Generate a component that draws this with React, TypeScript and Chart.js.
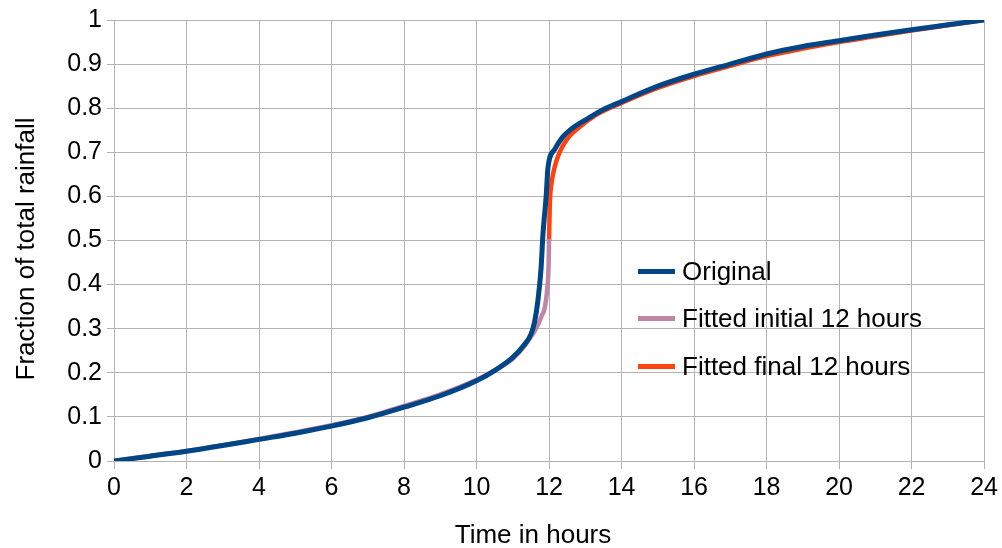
import { useEffect, useRef } from "react";
import { Chart, registerables } from "chart.js";

Chart.register(...registerables);

const seriesLabels = ["Original", "Fitted initial 12 hours", "Fitted final 12 hours"];
const seriesColors = ["#004586", "#bf86a6", "#ff420e"];

const originalHours = [0, 1, 2, 3, 4, 5, 6, 7, 8, 9, 10, 10.5, 11, 11.3, 11.5, 11.6, 11.69, 11.78, 11.83, 11.92, 11.97, 12.15, 12.38, 12.6, 13.1, 13.5, 14, 15, 16, 17, 18, 19, 20, 21, 22, 23, 24];
const originalFraction = [0, 0.011, 0.022, 0.035, 0.049, 0.063, 0.079, 0.098, 0.122, 0.148, 0.182, 0.205, 0.235, 0.262, 0.287, 0.315, 0.362, 0.437, 0.512, 0.6, 0.665, 0.706, 0.735, 0.752, 0.778, 0.797, 0.815, 0.85, 0.877, 0.9, 0.923, 0.94, 0.953, 0.966, 0.978, 0.989, 1.0];

const initialHours = [0, 1, 2, 3, 4, 5, 6, 7, 8, 9, 10, 10.5, 11, 11.3, 11.5, 11.6, 11.7, 11.8, 11.88, 11.95, 11.99, 12];
const initialFraction = [0, 0.012, 0.023, 0.036, 0.05, 0.065, 0.081, 0.1, 0.125, 0.151, 0.184, 0.206, 0.232, 0.258, 0.282, 0.294, 0.31, 0.33, 0.347, 0.39, 0.45, 0.504];

const finalHours = [12, 12.02, 12.06, 12.15, 12.29, 12.5, 12.75, 13.3, 14, 15, 16, 17, 18, 19, 20, 21, 22, 23, 24];
const finalFraction = [0.5, 0.58, 0.624, 0.665, 0.7, 0.73, 0.751, 0.785, 0.812, 0.846, 0.873, 0.896, 0.918, 0.935, 0.95, 0.963, 0.976, 0.988, 1.0];

const xTitle = "Time in hours";
const yTitle = "Fraction of total rainfall";

const FONT = "'Liberation Sans', Arial, sans-serif";

const toPoints = (xs: number[], ys: number[]) => xs.map((x, i) => ({ x, y: ys[i] }));

const overlayPlugin = {
  id: "overlay",
  afterDraw(chart: any) {
    const ctx = chart.ctx;
    ctx.save();
    // legend
    const rows = [271.5, 318.5, 366.5];
    ctx.font = `26px ${FONT}`;
    ctx.textBaseline = "middle";
    ctx.textAlign = "left";
    seriesLabels.forEach((label, i) => {
      ctx.strokeStyle = seriesColors[i];
      ctx.lineWidth = 5;
      ctx.beginPath();
      ctx.moveTo(638, rows[i]);
      ctx.lineTo(675, rows[i]);
      ctx.stroke();
      ctx.fillStyle = "#000";
      ctx.fillText(label, 682, rows[i] + 1);
    });
    // axis titles
    ctx.textAlign = "center";
    ctx.fillText(xTitle, 533, 536);
    ctx.translate(27, 249);
    ctx.rotate(-Math.PI / 2);
    ctx.fillText(yTitle, 0, 0);
    ctx.restore();
  },
};

export default function App() {
  const ref = useRef<HTMLCanvasElement>(null);
  useEffect(() => {
    document.body.style.margin = "0";
    if (!ref.current) return;
    const grid = "#b3b3b3";
    const chart = new Chart(ref.current, {
      type: "scatter",
      data: {
        datasets: [
          { label: seriesLabels[0], data: toPoints(originalHours, originalFraction), borderColor: seriesColors[0], borderWidth: 5, showLine: true, pointRadius: 0, cubicInterpolationMode: "monotone" },
          { label: seriesLabels[1], data: toPoints(initialHours, initialFraction), borderColor: seriesColors[1], borderWidth: 4.5, showLine: true, pointRadius: 0, cubicInterpolationMode: "monotone" },
          { label: seriesLabels[2], data: toPoints(finalHours, finalFraction), borderColor: seriesColors[2], borderWidth: 4.5, showLine: true, pointRadius: 0, cubicInterpolationMode: "monotone" },
        ],
      } as any,
      options: {
        animation: false,
        responsive: true,
        maintainAspectRatio: false,
        layout: { padding: { top: 16, right: 17, left: 0, bottom: 0 } },
        plugins: { legend: { display: false }, tooltip: { enabled: false } },
        scales: {
          x: {
            type: "linear",
            min: 0,
            max: 24,
            ticks: { stepSize: 2, color: "#000", font: { size: 25, family: FONT }, padding: 4, maxRotation: 0 },
            grid: { color: grid, tickLength: 8, lineWidth: 1 },
            border: { color: grid },
            afterFit: (s: any) => { s.height = 87; },
          },
          y: {
            type: "linear",
            min: 0,
            max: 1,
            ticks: {
              stepSize: 0.1,
              color: "#000",
              font: { size: 25, family: FONT },
              padding: 5,
              callback: (v: any) => String(Number(Number(v).toFixed(1))),
            },
            grid: { color: grid, tickLength: 7, lineWidth: 1 },
            border: { color: grid },
            afterFit: (s: any) => { s.width = 114; },
          },
        },
      } as any,
      plugins: [overlayPlugin],
    });
    return () => chart.destroy();
  }, []);
  return (
    <div style={{ width: 1002, height: 548, position: "relative" }}>
      <canvas ref={ref} />
    </div>
  );
}
